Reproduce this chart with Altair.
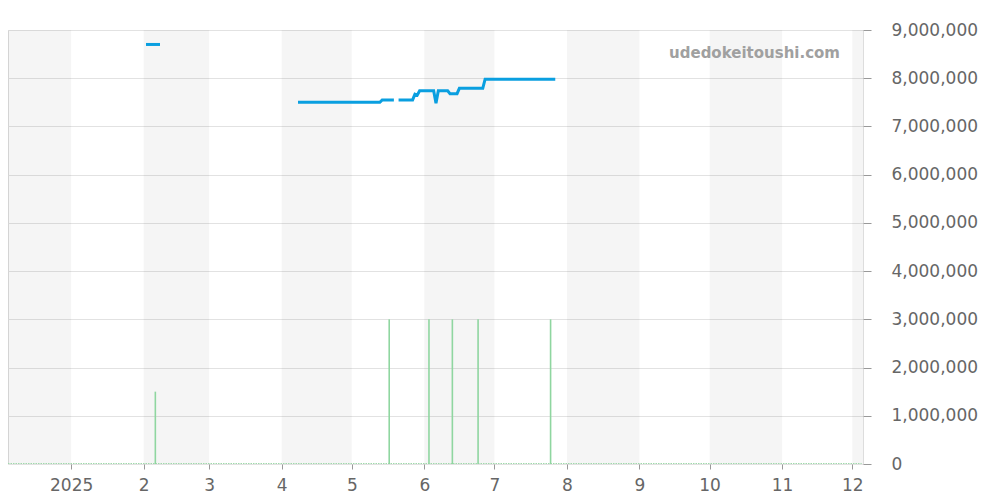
import altair as alt
import pandas as pd

# ---- data ----
price_dates = ["2025-02-02", "2025-02-08",
               "2025-04-08", "2025-05-13", "2025-05-14", "2025-05-19",
               "2025-05-21", "2025-05-27", "2025-05-28", "2025-05-29", "2025-05-30",
               "2025-06-05", "2025-06-06", "2025-06-07", "2025-06-11", "2025-06-12",
               "2025-06-15", "2025-06-16", "2025-06-26", "2025-06-27", "2025-07-27"]
price_values = [8700000, 8700000,
                7500000, 7500000, 7550000, 7550000,
                7550000, 7550000, 7670000, 7650000, 7740000,
                7740000, 7480000, 7740000, 7740000, 7680000,
                7680000, 7790000, 7790000, 7980000, 7980000]
price_segment = [1, 1,
                 2, 2, 2, 2,
                 3, 3, 3, 3, 3,
                 3, 3, 3, 3, 3,
                 3, 3, 3, 3, 3]

volume_dates = ["2025-02-06", "2025-05-17", "2025-06-03", "2025-06-13", "2025-06-24", "2025-07-25"]
volume_values = [1500000, 3000000, 3000000, 3000000, 3000000, 3000000]

band_starts = ["2024-12-01", "2025-02-01", "2025-04-01", "2025-06-01", "2025-08-01", "2025-10-01", "2025-12-01"]
band_ends = ["2025-01-01", "2025-03-01", "2025-05-01", "2025-07-01", "2025-09-01", "2025-11-01", "2026-01-01"]

baseline_start = ["2024-12-05"]
baseline_end = ["2025-12-05"]
baseline_value = [0]

watermark = ["udedokeitoushi.com"]

# ---- tables ----
price_df = pd.DataFrame({"date": price_dates, "price": price_values, "seg": price_segment})
vol_df = pd.DataFrame({"date": volume_dates, "vol": volume_values})
band_df = pd.DataFrame({"start": band_starts, "end": band_ends})
base_df = pd.DataFrame({"start": baseline_start, "end": baseline_end, "v": baseline_value})
wm_df = pd.DataFrame({"t": watermark})

FONT = "DejaVu Sans"

x_scale = alt.Scale(
    type="utc",
    domain=[alt.DateTime(year=2024, month=12, date=5, utc=True),
            alt.DateTime(year=2025, month=12, date=5, hours=14, utc=True)],
)
y_scale = alt.Scale(domain=[0, 9000000], nice=False)

x_axis = alt.Axis(
    title=None,
    tickCount={"interval": "month", "step": 1},
    labelExpr="utcmonth(datum.value) == 0 ? '' + utcyear(datum.value) : '' + (utcmonth(datum.value) + 1)",
    grid=False, domain=False,
    tickColor="#999999", tickSize=5,
    labelColor="#666666", labelFontSize=17, labelFont=FONT, labelPadding=8,
    labelFlush=False, labelOverlap=False,
)
y_axis = alt.Axis(
    title=None, orient="right", format=",d", tickCount=9,
    grid=True, gridColor="#e2e2e2", domain=False,
    tickColor="#999999", tickSize=8,
    labelColor="#666666", labelFontSize=17, labelFont=FONT, labelPadding=20,
)

bands = alt.Chart(band_df).mark_rect(color="#000000", opacity=0.04, clip=True).encode(
    x=alt.X("start:T", scale=x_scale, axis=x_axis),
    x2="end:T",
)

grid_holder = alt.Chart(base_df).mark_rule(opacity=0).encode(
    y=alt.Y("v:Q", scale=y_scale, axis=y_axis),
)

baseline = alt.Chart(base_df).mark_rule(
    color="#9fd8ab", strokeWidth=2, strokeDash=[1.5, 1], clip=True
).encode(
    x=alt.X("start:T", scale=x_scale),
    x2="end:T",
    y=alt.Y("v:Q", scale=y_scale),
)

bars = alt.Chart(vol_df).mark_rule(color="#8fd6a0", strokeWidth=1.6).encode(
    x=alt.X("date:T", scale=x_scale),
    y=alt.Y("vol:Q", scale=y_scale),
    y2=alt.datum(0),
)

line = alt.Chart(price_df).mark_line(color="#0a9fe0", strokeWidth=3).encode(
    x=alt.X("date:T", scale=x_scale),
    y=alt.Y("price:Q", scale=y_scale),
    detail="seg:N",
)

wm = alt.Chart(wm_df).mark_text(
    font=FONT, fontSize=15, fontWeight="bold", color="#a0a0a0",
    align="right", baseline="middle",
).encode(
    text="t:N",
    x=alt.value(832),
    y=alt.value(23),
)

chart = alt.layer(bands, grid_holder, baseline, bars, line, wm).properties(
    width=855, height=434,
    padding={"top": 13, "left": 0, "right": 0, "bottom": 0},
).configure_view(strokeWidth=0).configure(background="white")

chart.save("out.html", embed_options={"renderer": "svg", "actions": False})
